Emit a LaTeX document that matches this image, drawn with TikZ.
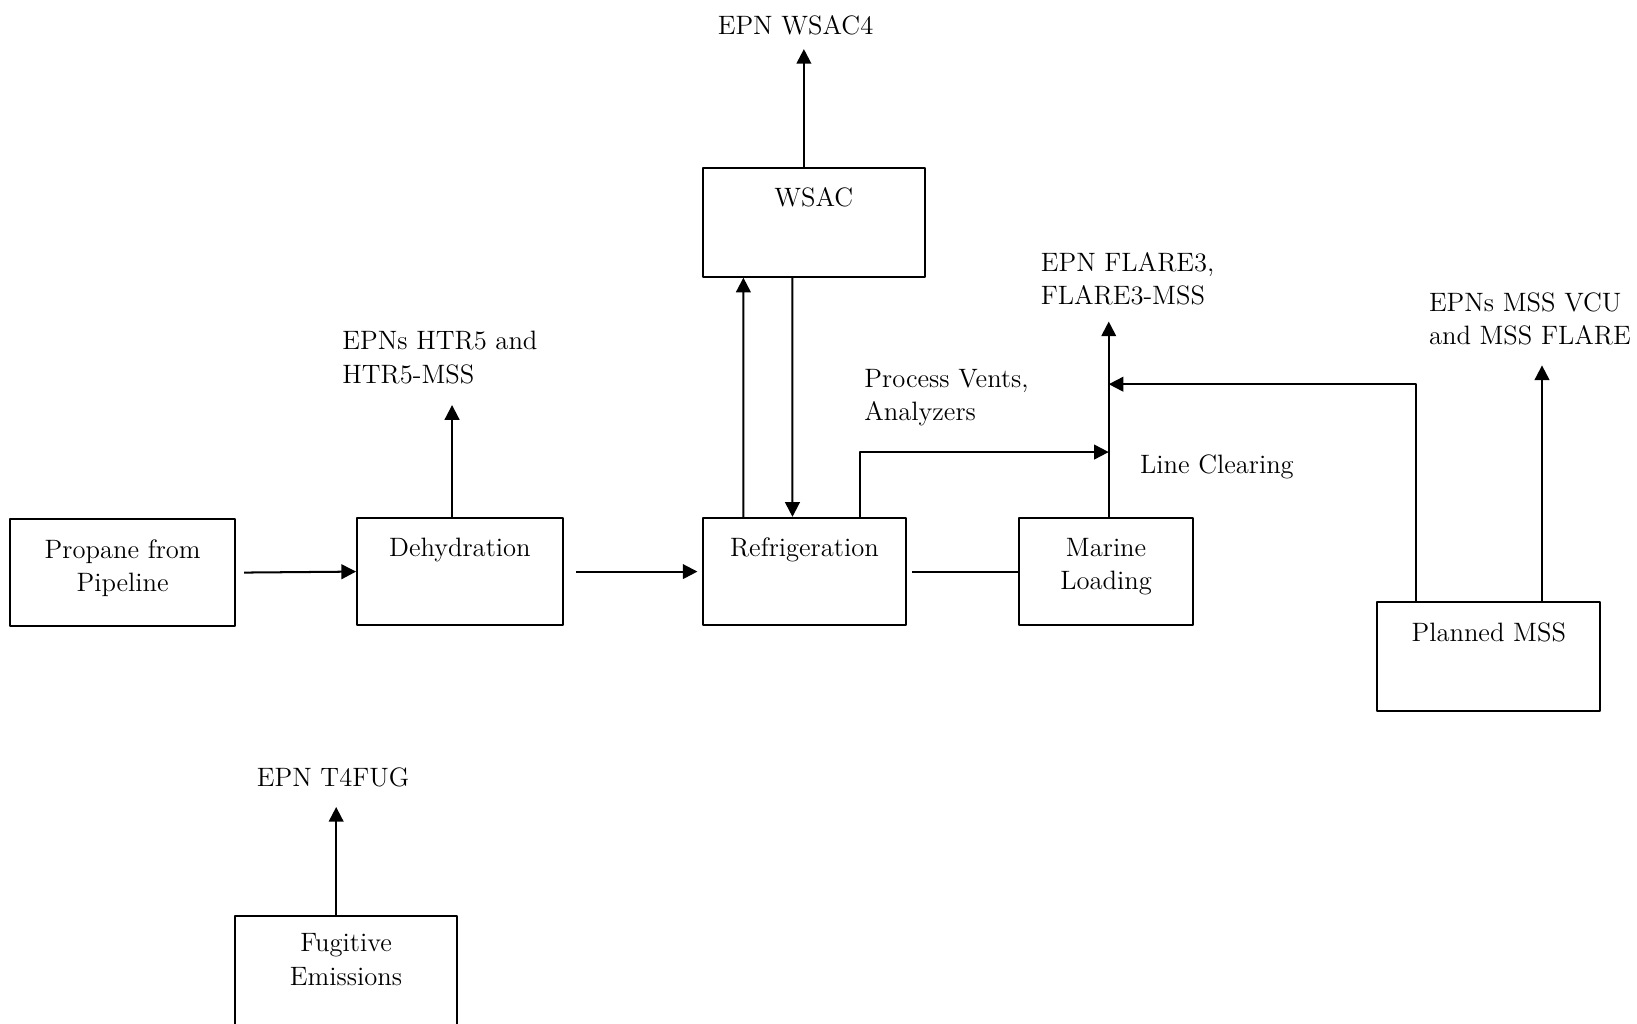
\documentclass[tikz,border=0pt]{standalone}
\usetikzlibrary{arrows.meta,calc}
\begin{document}
\begin{tikzpicture}[x=0.02cm, y=-0.02cm, font=\fontsize{14.5}{18.1}\selectfont,
  line width=1.1pt, line join=round, >={Triangle[length=8pt,width=8pt]},
  box/.style={draw, align=center, inner sep=0pt},
  onebox/.style={box, text height=10pt, text depth=27pt},
  twobox/.style={box, text depth=8pt},
  tag/.style={align=left, inner sep=0pt, anchor=west}]
\useasboundingbox (0,0) rectangle (1568,980);
% process units
\node[twobox, minimum width=4.3cm, minimum height=2.06cm] (prop) at (117.5,548.5) {Propane from\\Pipeline};
\node[onebox, minimum width=3.94cm, minimum height=2.06cm] (dehy) at (440.5,547.5) {Dehydration};
\node[onebox, minimum width=3.9cm, minimum height=2.06cm] (refr) at (770.5,547.5) {Refrigeration};
\node[onebox, minimum width=4.26cm, minimum height=2.08cm] (wsac) at (779.5,213) {WSAC};
\node[twobox, minimum width=3.34cm, minimum height=2.06cm] (mar) at (1059.5,547.5) {Marine\\Loading};
\node[onebox, minimum width=4.28cm, minimum height=2.08cm] (pmss) at (1426,629) {Planned MSS};
\node[twobox, text depth=13pt, minimum width=4.26cm, minimum height=2.14cm] (fug) at (331.5,930.5) {Fugitive\\Emissions};
% emission points
\node[inner sep=0pt] (wsacl) at (762,24) {EPN WSAC4};
\node[tag] (htrl) at (327,342.5) {EPNs HTR5 and\\HTR5-MSS};
\node[tag] (ventl) at (827,380.5) {Process Vents,\\Analyzers};
\node[tag] (flarel) at (996,267) {EPN FLARE3,\\FLARE3-MSS};
\node[tag, anchor=east] (vcul) at (1563,305.5) {EPNs MSS VCU\\and MSS FLARE};
\node[tag] (linel) at (1091,447) {Line Clearing};
\node[inner sep=0pt] (fugl) at (319,745) {EPN T4FUG};
\coordinate (htr) at (433,388);
\coordinate (wsacout) at (770,47);
\coordinate (flare) at (1062,308);
\coordinate (vent) at (1062,433);
\coordinate (mssin) at (1062,368);
\coordinate (vcu) at (1477,350);
\coordinate (fugout) at (322,773);
% streams
\draw[->, shorten <=0.16cm] (prop.east) -- (dehy.west);
\draw[->, shorten <=0.24cm, shorten >=0.08cm] (dehy.east) -- (refr.west);
\draw[->] (dehy.north -| htr) -- (htr);
\draw[->] ($(refr.north west)+(40,0)$) -- ($(wsac.south west)+(40,0)$);
\draw[->] ($(wsac.south west)+(87,0)$) -- ($(refr.north west)+(87,0)$);
\draw[->] (wsac.north -| wsacout) -- (wsacout);
\draw[shorten <=0.1cm] (refr.east) -- (mar.west);
\draw[->] ($(refr.north west)+(152,0)$) |- (vent);
\draw[->] (mar.north -| flare) -- (flare);
\draw[->] ($(pmss.north west)+(38,0)$) |- (mssin);
\draw[->] (pmss.north -| vcu) -- (vcu);
\draw[->] (fug.north -| fugout) -- (fugout);
\end{tikzpicture}
\end{document}
